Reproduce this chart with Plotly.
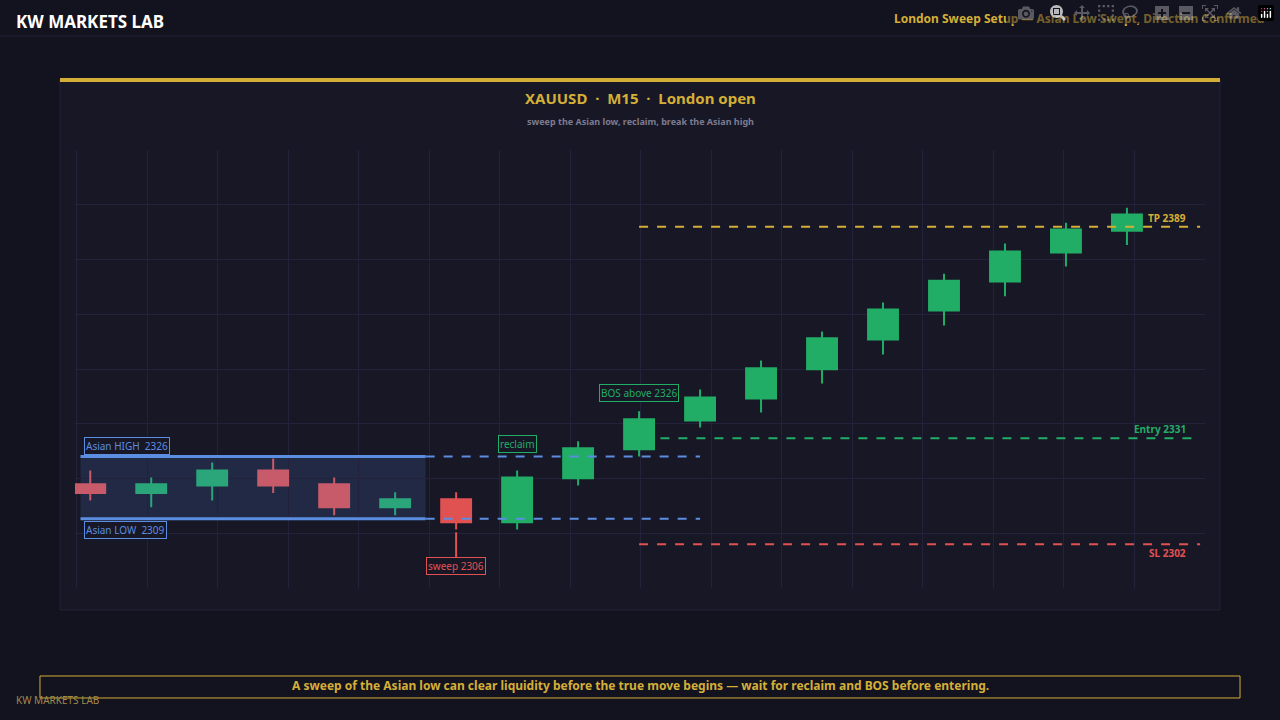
import plotly.graph_objects as go

# candle data (index, open, high, low, close)
asia_x = [0, 1, 2, 3, 4, 5]
asia_open = [2318.4, 2316.0, 2318.1, 2322.2, 2318.4, 2312.1]
asia_high = [2322.2, 2320.3, 2324.4, 2325.5, 2320.3, 2316.2]
asia_low = [2314.0, 2312.1, 2314.0, 2316.0, 2309.9, 2309.9]
asia_close = [2316.0, 2318.4, 2322.2, 2318.1, 2312.1, 2314.3]

lon_x = list(range(6, 18))
lon_open = [2314.3, 2308.0, 2320.1, 2328.0, 2335.9, 2341.9, 2349.9, 2358.1, 2366.0, 2374.0, 2381.9, 2387.9]
lon_high = [2316.2, 2322.2, 2330.2, 2338.4, 2344.4, 2352.3, 2360.3, 2368.2, 2376.1, 2384.4, 2390.1, 2394.2]
lon_low = [2306.0, 2306.0, 2318.1, 2326.0, 2334.0, 2338.1, 2346.0, 2354.0, 2361.9, 2369.9, 2378.1, 2384.0]
lon_close = [2308.0, 2320.3, 2328.3, 2336.2, 2342.2, 2350.2, 2358.4, 2366.3, 2374.2, 2382.2, 2388.2, 2392.3]

asian_high, asian_low = 2326, 2309
entry, tp, sl, sweep = 2331, 2389, 2302, 2306

BG = "#13121f"
PANEL = "#181726"
GOLD = "#d4af37"
BLUE = "#5b8ee0"
GREEN = "#22ad66"
RED = "#e05252"

fig = go.Figure()
fig.add_trace(go.Candlestick(x=asia_x, open=asia_open, high=asia_high, low=asia_low, close=asia_close,
    increasing=dict(line=dict(color="#2ba57a", width=2), fillcolor="#2ba57a"),
    decreasing=dict(line=dict(color="#c75b6a", width=2), fillcolor="#c75b6a"),
    whiskerwidth=0, showlegend=False, hoverinfo="skip"))
fig.add_trace(go.Candlestick(x=lon_x, open=lon_open, high=lon_high, low=lon_low, close=lon_close,
    increasing=dict(line=dict(color=GREEN, width=2), fillcolor=GREEN),
    decreasing=dict(line=dict(color=RED, width=2), fillcolor=RED),
    whiskerwidth=0, showlegend=False, hoverinfo="skip"))

shapes = [
    # panel and header
    dict(type="rect", xref="paper", yref="paper", x0=-0.0133, x1=1.0133, y0=-0.0502, y1=1.1598,
         fillcolor=PANEL, line=dict(color="#24233a", width=1), layer="below"),
    dict(type="rect", xref="paper", yref="paper", x0=-0.0133, x1=1.0133, y0=1.1553, y1=1.1644,
         fillcolor=GOLD, line=dict(width=0)),
    dict(type="line", xref="paper", yref="paper", x0=-0.07, x1=1.07, y0=1.2603, y1=1.2603,
         line=dict(color="#24233a", width=1)),
    dict(type="rect", xref="paper", yref="paper", x0=-0.031, x1=1.031, y0=-0.2511, y1=-0.2009,
         fillcolor="rgba(0,0,0,0)", line=dict(color=GOLD, width=1)),
    # Asian range
    dict(type="rect", x0=-0.16, x1=5.5, y0=asian_low, y1=asian_high,
         fillcolor="rgba(70,110,180,0.22)", line=dict(width=0), layer="below"),
    dict(type="line", x0=-0.16, x1=5.5, y0=asian_high, y1=asian_high, line=dict(color=BLUE, width=3)),
    dict(type="line", x0=-0.16, x1=5.5, y0=asian_low, y1=asian_low, line=dict(color=BLUE, width=3)),
    dict(type="line", x0=5.5, x1=10.0, y0=asian_high, y1=asian_high, line=dict(color=BLUE, width=2, dash="dash")),
    dict(type="line", x0=5.5, x1=10.0, y0=asian_low, y1=asian_low, line=dict(color=BLUE, width=2, dash="dash")),
    # trade levels
    dict(type="line", x0=9.35, x1=18.2, y0=entry, y1=entry, line=dict(color=GREEN, width=2, dash="dash")),
    dict(type="line", x0=9.0, x1=18.2, y0=tp, y1=tp, line=dict(color=GOLD, width=2, dash="dash")),
    dict(type="line", x0=9.0, x1=18.2, y0=sl, y1=sl, line=dict(color=RED, width=2, dash="dash")),
]

def box(text, x, y, color, yanchor, xanchor="left"):
    return dict(x=x, y=y, text=text, showarrow=False, xanchor=xanchor, yanchor=yanchor,
                font=dict(color=color, size=10, family="Noto Sans"), bordercolor=color, borderwidth=1,
                borderpad=1, bgcolor=PANEL)

ann = [
    box(f"Asian HIGH  {asian_high}", -0.1, asian_high + 0.5, BLUE, "bottom"),
    box(f"Asian LOW  {asian_low}", -0.1, asian_low - 0.6, BLUE, "top"),
    box("reclaim", 7.0, 2327.0, GREEN, "bottom", "center"),
    box("BOS above 2326", 9.0, 2341.0, GREEN, "bottom", "center"),
    dict(x=6, y=sweep - 0.7, ax=0, ay=34, text="sweep 2306", showarrow=True, arrowhead=0, arrowwidth=2,
         arrowcolor=RED, font=dict(color=RED, size=10, family="Noto Sans"), bordercolor=RED, borderwidth=1,
         borderpad=1, bgcolor=PANEL),
    dict(x=18.0, y=tp, text=f"<b>TP {tp}</b>", showarrow=False, xanchor="right", yanchor="bottom",
         font=dict(color=GOLD, size=10)),
    dict(x=18.0, y=entry, text=f"<b>Entry {entry}</b>", showarrow=False, xanchor="right", yanchor="bottom",
         font=dict(color=GREEN, size=10)),
    dict(x=18.0, y=sl, text=f"<b>SL {sl}</b>", showarrow=False, xanchor="right", yanchor="top",
         font=dict(color=RED, size=10)),
    # titles
    dict(xref="paper", yref="paper", x=0.5, y=1.146, text="<b>XAUUSD  ·  M15  ·  London open</b>",
         showarrow=False, font=dict(color=GOLD, size=15)),
    dict(xref="paper", yref="paper", x=0.5, y=1.084, text="<b>sweep the Asian low, reclaim, break the Asian high</b>",
         showarrow=False, font=dict(color="#7d7b8f", size=9)),
    dict(xref="paper", yref="paper", x=-0.054, y=1.3242, text="<b>KW MARKETS LAB</b>", showarrow=False,
         xanchor="left", font=dict(color="#ffffff", size=17)),
    dict(xref="paper", yref="paper", x=1.054, y=1.3242,
         text="<b>London Sweep Setup — Asian Low Swept, Direction Confirmed</b>", showarrow=False,
         xanchor="right", font=dict(color=GOLD, size=12)),
    dict(xref="paper", yref="paper", x=0.5, y=-0.2465,
         text="<b>A sweep of the Asian low can clear liquidity before the true move begins — wait for reclaim and BOS before entering.</b>",
         showarrow=False, font=dict(color=GOLD, size=12)),
    dict(xref="paper", yref="paper", x=-0.054, y=-0.277, text="KW MARKETS LAB", showarrow=False,
         xanchor="left", font=dict(color="#a08a4a", size=10)),
]

fig.update_layout(
    width=1280, height=720, paper_bgcolor=BG, plot_bgcolor=PANEL,
    margin=dict(l=75, r=75, t=150, b=132),
    font=dict(family="Noto Sans", color="#cccccc"),
    shapes=shapes, annotations=ann,
    xaxis=dict(range=[-0.25, 18.28], tick0=0.934, dtick=1.156, showticklabels=False, zeroline=False,
               gridcolor="#23223a", rangeslider=dict(visible=False)),
    yaxis=dict(range=[2290, 2410], tick0=2305, dtick=15, showticklabels=False, zeroline=False,
               gridcolor="#23223a"),
)

fig.write_html("out.html", post_script="document.body.style.margin='0';document.body.style.background='#13121f';")
